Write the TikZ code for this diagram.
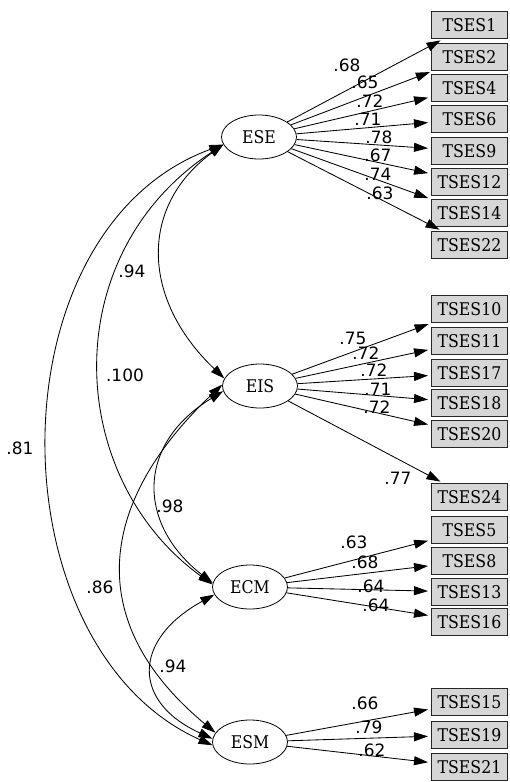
\documentclass[tikz,border=0pt]{standalone}
\usepackage{fontspec}
\setmainfont{DejaVu Serif Condensed}
\newfontfamily\labfont{DejaVu Sans}
\usetikzlibrary{arrows.meta,shapes.geometric}
\definecolor{boxgray}{RGB}{214,214,214}
\begin{document}
\begin{tikzpicture}[x=1pt,y=-1pt,
  lat/.style={draw, ellipse, minimum width=75pt, minimum height=44pt, inner sep=0pt, font=\fontsize{17.5}{20}\selectfont, line width=0.8pt},
  obs/.style={draw=black!85, fill=boxgray, minimum width=76pt, minimum height=27pt, inner sep=0pt, font=\fontsize{17.5}{20}\selectfont, line width=1pt},
  load/.style={-{Triangle[length=14pt,width=9pt]}, line width=0.85pt, shorten >=3pt},
  corr/.style={{Triangle[length=14pt,width=9pt]}-{Triangle[length=14pt,width=9pt]}, line width=0.85pt},
  lab/.style={font=\labfont\fontsize{17}{19}\selectfont, inner sep=0pt}]
\useasboundingbox (0,0) rectangle (510,782);

% latent factors
\node[lat] (ESE) at (259,137) {ESE};
\node[lat] (EIS) at (260,386) {EIS};
\node[lat] (ECM) at (250,587) {ECM};
\node[lat] (ESM) at (250,742) {ESM};

% indicators
\foreach \n/\y in {1/25, 2/57, 4/88, 6/119, 9/151, 12/182, 14/213, 22/245,
                   10/309, 11/341, 17/373, 18/403, 20/434, 24/497,
                   5/530, 8/561, 13/592, 16/622,
                   15/702, 19/735, 21/767}
  \node[obs] (t\n) at (469.5,\y) {TSES\n};

% loadings
\foreach \n in {1,2,4,6,9,12,14,22} \draw[load] (ESE) -- (t\n);
\foreach \n in {10,11,17,18,20,24} \draw[load] (EIS) -- (t\n);
\foreach \n in {5,8,13,16} \draw[load] (ECM) -- (t\n);
\foreach \n in {15,19,21} \draw[load] (ESM) -- (t\n);

% loading labels
\node[lab] (a1) at (347,65) {.68};
\node[lab] (a2) at (365,82) {.65};
\node[lab] (a3) at (370,101) {.72};
\node[lab] (a4) at (368,119) {.71};
\node[lab] (a5) at (379,137) {.78};
\node[lab] (a6) at (378,155) {.67};
\node[lab] (a7) at (378,174) {.74};
\node[lab] (a8) at (380,193) {.63};

\node[lab] (b1) at (353,338) {.75};
\node[lab] (b2) at (366,353) {.72};
\node[lab] (b3) at (374,370) {.72};
\node[lab] (b4) at (378,389) {.71};
\node[lab] (b5) at (377,407) {.72};
\node[lab] (b6) at (398,478) {.77};

\node[lab] (c1) at (354,542) {.63};
\node[lab] (c2) at (365,562) {.68};
\node[lab] (c3) at (371,586) {.64};
\node[lab] (c4) at (376,605) {.64};

\node[lab] (d1) at (365,703) {.66};
\node[lab] (d2) at (369,727) {.79};
\node[lab] (d3) at (372,750) {.62};

% correlations
\draw[corr] (ESE.192) .. controls (-10,230) and (-7,647) .. (ESM.185);
\draw[corr] (ESE.192) .. controls (55,255) and (65,478) .. (ECM.176);
\draw[corr] (ESE.192) .. controls (140,205) and (140,298) .. (EIS.168);
\draw[corr] (EIS.178) .. controls (100,500) and (80,620) .. (ESM.165);
\draw[corr] (EIS.188) .. controls (135,445) and (138,525) .. (ECM.174);
\draw[corr] (ECM.192) .. controls (132,640) and (132,702) .. (ESM.175);

% correlation labels
\node[lab] (r1) at (132,271) {.94};
\node[lab] (r2) at (125,375) {.100};
\node[lab] (r3) at (20,448) {.81};
\node[lab] (r4) at (170,506) {.98};
\node[lab] (r5) at (100,587) {.86};
\node[lab] (r6) at (173,666) {.94};
\end{tikzpicture}
\end{document}
